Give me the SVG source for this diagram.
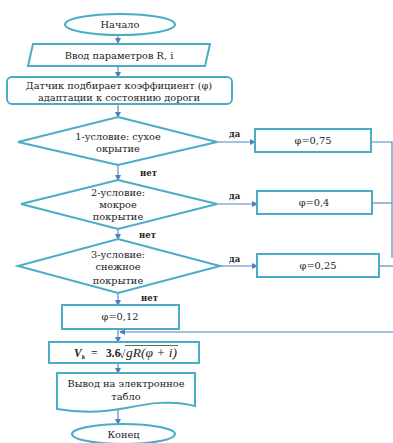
<svg xmlns="http://www.w3.org/2000/svg" width="393" height="443" viewBox="0 0 393 443">
<style>
.n{fill:#fff;stroke:#4bacc6;stroke-width:2}
.c{fill:none;stroke:#4f81bd;stroke-width:1.1}
.t{font-family:"DejaVu Serif","Liberation Serif",serif;font-size:9.8px;fill:#222;text-anchor:middle}
.l{font-family:"DejaVu Serif","Liberation Serif",serif;font-size:8.5px;font-weight:bold;fill:#222}
.f{font-family:"Liberation Serif",serif;font-size:11.5px;fill:#222}
</style>
<defs>
<marker id="a" markerWidth="6" markerHeight="6" refX="5" refY="3" orient="auto" markerUnits="userSpaceOnUse">
<path d="M0,0 L6,3 L0,6 Z" fill="#4f81bd"/>
</marker>
</defs>
<rect width="393" height="443" fill="#fff"/>
<g id="connectors">
<line class="c" x1="118" y1="35" x2="118" y2="43" marker-end="url(#a)"/>
<line class="c" x1="118" y1="66" x2="118" y2="77" marker-end="url(#a)"/>
<line class="c" x1="118" y1="104" x2="118" y2="117" marker-end="url(#a)"/>
<line class="c" x1="118" y1="165" x2="118" y2="180" marker-end="url(#a)"/>
<line class="c" x1="118" y1="229" x2="118" y2="239" marker-end="url(#a)"/>
<line class="c" x1="118" y1="293" x2="118" y2="305" marker-end="url(#a)"/>
<line class="c" x1="118" y1="329" x2="118" y2="342" marker-end="url(#a)"/>
<line class="c" x1="118" y1="363" x2="118" y2="373" marker-end="url(#a)"/>
<line class="c" x1="118" y1="410" x2="118" y2="424" marker-end="url(#a)"/>
<line class="c" x1="217" y1="142" x2="255" y2="142" marker-end="url(#a)"/>
<line class="c" x1="217" y1="204" x2="257" y2="204" marker-end="url(#a)"/>
<line class="c" x1="220" y1="266" x2="257" y2="266" marker-end="url(#a)"/>
<polyline class="c" points="371,142 392,142 392,258"/>
<line class="c" x1="372" y1="203" x2="392" y2="203"/>
<line class="c" x1="379" y1="266" x2="393" y2="266"/>
<line class="c" x1="393" y1="332" x2="120" y2="332" marker-end="url(#a)"/>
<text class="l" x="229" y="137">да</text>
<text class="l" x="229" y="199">да</text>
<text class="l" x="229" y="262">да</text>
<text class="l" x="140" y="176">нет</text>
<text class="l" x="139" y="238">нет</text>
<text class="l" x="141" y="301">нет</text>
</g>
<g id="start">
<ellipse class="n" cx="120" cy="24.5" rx="55" ry="10.5"/>
<text class="t" x="120" y="28">Начало</text>
</g>
<g id="input">
<polygon class="n" points="33,44 210,44 205,66 28,66"/>
<text class="t" x="119" y="58.5">Ввод параметров R, i</text>
</g>
<g id="sensor">
<rect class="n" x="7" y="77" width="225" height="27" rx="5"/>
<text class="t" x="119" y="89">Датчик подбирает коэффициент  (φ)</text>
<text class="t" x="119" y="100.5">адаптации  к состоянию дороги</text>
</g>
<g id="cond1">
<polygon class="n" points="118,117 217,142 118,165 18,142"/>
<text class="t" x="118" y="139.5">1-условие: сухое</text>
<text class="t" x="118" y="151.5">окрытие</text>
</g>
<g id="phi075">
<rect class="n" x="255" y="129" width="116" height="23"/>
<text class="t" x="313" y="144">φ=0,75</text>
</g>
<g id="cond2">
<polygon class="n" points="118,180 217,204 118,229 21,204"/>
<text class="t" x="118" y="196">2-условие:</text>
<text class="t" x="118" y="208">мокрое</text>
<text class="t" x="118" y="220">покрытие</text>
</g>
<g id="phi04">
<rect class="n" x="257" y="191" width="115" height="23"/>
<text class="t" x="314" y="206">φ=0,4</text>
</g>
<g id="cond3">
<polygon class="n" points="118,239 220,266 118,293 18,266"/>
<text class="t" x="118" y="258">3-условие:</text>
<text class="t" x="118" y="270">снежное</text>
<text class="t" x="118" y="283.5">покрытие</text>
</g>
<g id="phi025">
<rect class="n" x="257" y="254" width="122" height="23"/>
<text class="t" x="318" y="269">φ=0,25</text>
</g>
<g id="phi012">
<rect class="n" x="62" y="305" width="117" height="24"/>
<text class="t" x="120" y="320">φ=0,12</text>
</g>
<g id="formula">
<rect class="n" x="49" y="342" width="150" height="21"/>
<text class="f" x="74" y="357" font-style="italic" font-weight="bold">V<tspan font-size="7px" dy="2">k</tspan></text>
<text class="f" x="91" y="357">=</text>
<text class="f" x="106" y="357" font-weight="bold">3.6</text>
<text class="f" x="119" y="358" font-size="13px">√</text>
<line x1="125" y1="345.5" x2="178" y2="345.5" stroke="#222" stroke-width="0.7"/>
<text class="f" x="126" y="357" font-style="italic" textLength="51" lengthAdjust="spacingAndGlyphs">gR(φ + i)</text>
</g>
<g id="output">
<path class="n" d="M57,373 H195 V406 C172,400 150,403 126,408 C100,413 80,413 57,409 Z"/>
<text class="t" x="126" y="387">Вывод на электронное</text>
<text class="t" x="126" y="399.5">табло</text>
</g>
<g id="end">
<ellipse class="n" cx="123.5" cy="434" rx="51.5" ry="10"/>
<text class="t" x="123.5" y="437.5">Конец</text>
</g>
</svg>
